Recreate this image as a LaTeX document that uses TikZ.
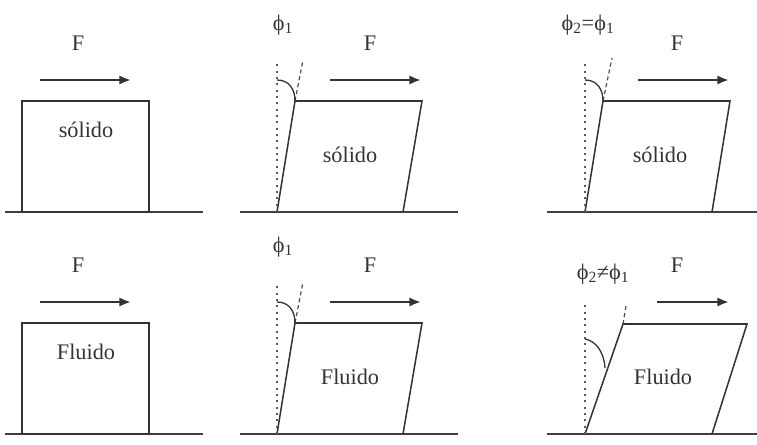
\documentclass[tikz,border=0pt]{standalone}
\usepackage{fontspec}
\setmainfont{Liberation Serif}
\usetikzlibrary{arrows.meta}

\begin{document}
\begin{tikzpicture}[x=0.03cm, y=-0.03cm, every node/.style={font=\fontsize{19}{22}\selectfont, text=black!80, inner sep=0pt}, body/.style={draw=black!80, line width=1.3pt}, ground/.style={draw=black!75, line width=1.8pt}, force/.style={-{Latex[length=10pt,width=8pt]}, line width=2pt, draw=black!80}, vert/.style={draw=black!65, line width=1.3pt, dash pattern=on 1.8pt off 3.6pt}, slant/.style={draw=black!70, line width=1pt, dash pattern=on 3.5pt off 2.5pt}, angmark/.style={draw=black!80, line width=1.1pt}]
\useasboundingbox (0,0) rectangle (757,444);
% first two columns: the same for solid and fluid
\foreach \dy/\r/\mat in {0/a/sólido, 222/b/Fluido} {
  % rest
  \coordinate (g1\r) at (5,212+\dy); \coordinate (g2\r) at (203,212+\dy);
  \draw[ground] (g1\r) -- (g2\r);
  \coordinate (p1\r) at (22,101+\dy); \coordinate (p2\r) at (149,212+\dy);
  \draw[body] (p1\r) rectangle (p2\r);
  \node (Fa\r) at (78,43+\dy) {F};
  \coordinate (fa\r) at (40,80+\dy); \coordinate (fb\r) at (131,80+\dy);
  \draw[force] (fa\r) -- (fb\r);
  \node (m1\r) at (86,130+\dy) {\mat};
  % first deformation
  \coordinate (h1\r) at (240,212+\dy); \coordinate (h2\r) at (458,212+\dy);
  \draw[ground] (h1\r) -- (h2\r);
  \coordinate (bl\r) at (277,212+\dy); \coordinate (tl\r) at (295,101+\dy);
  \coordinate (tr\r) at (422,101+\dy); \coordinate (br\r) at (403,212+\dy);
  \draw[body] (bl\r) -- (tl\r) -- (tr\r) -- (br\r);
  \coordinate (vt\r) at (277,64+\dy); \coordinate (st\r) at (303,60+\dy);
  \draw[vert] (bl\r) -- (vt\r);
  \draw[slant] (tl\r) -- (st\r);
  \coordinate (am\r) at (277,80+\dy);
  \draw[angmark] (am\r) .. controls (289,80+\dy) and (295,89+\dy) .. (tl\r);
  \node (phi\r) at (283,25+\dy) {ϕ\textsubscript{1}};
  \node (Fb\r) at (370,43+\dy) {F};
  \coordinate (fc\r) at (330,80+\dy); \coordinate (fd\r) at (421,80+\dy);
  \draw[force] (fc\r) -- (fd\r);
  \node (m2\r) at (350,155+\dy) {\mat};
}
% third column, solid: same angle
\coordinate (k1) at (547,212); \coordinate (k2) at (757,212);
\draw[ground] (k1) -- (k2);
\coordinate (sbl) at (585,212); \coordinate (stl) at (603,101);
\coordinate (str) at (730,101); \coordinate (sbr) at (712,212);
\draw[body] (sbl) -- (stl) -- (str) -- (sbr);
\coordinate (svt) at (585,64); \coordinate (sst) at (612,58);
\draw[vert] (sbl) -- (svt);
\draw[slant] (stl) -- (sst);
\coordinate (sam) at (585,80);
\draw[angmark] (sam) .. controls (597,80) and (603,89) .. (stl);
\node (seq) at (588,25) {ϕ\textsubscript{2}=ϕ\textsubscript{1}};
\node (Fc) at (677,43) {F};
\coordinate (sfa) at (638,80); \coordinate (sfb) at (729,80);
\draw[force] (sfa) -- (sfb);
\node (m3) at (660,155) {sólido};
% third column, fluid: angle keeps growing
\coordinate (l1) at (547,434); \coordinate (l2) at (757,434);
\draw[ground] (l1) -- (l2);
\coordinate (fbl) at (585,434); \coordinate (ftl) at (623,324);
\coordinate (ftr) at (747,324); \coordinate (fbr) at (712,434);
\draw[body] (fbl) -- (ftl) -- (ftr) -- (fbr);
\coordinate (fvt) at (585,304); \coordinate (fst) at (626,306);
\draw[vert] (fbl) -- (fvt);
\draw[slant] (ftl) -- (fst);
\coordinate (fam) at (585,339); \coordinate (fae) at (605,368);
\draw[angmark] (fam) .. controls (596,341) and (604,352) .. (fae);
\node (fne) at (603,274) {ϕ\textsubscript{2}≠ϕ\textsubscript{1}};
\node (Fd) at (677,265) {F};
\coordinate (ffa) at (657,302); \coordinate (ffb) at (729,302);
\draw[force] (ffa) -- (ffb);
\node (m4) at (663,377) {Fluido};
\end{tikzpicture}
\end{document}
